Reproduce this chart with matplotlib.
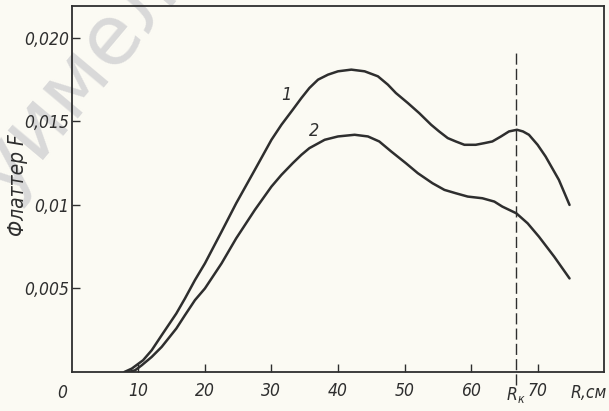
import matplotlib
matplotlib.use('Agg')
import matplotlib.pyplot as plt

# values
r1 = [7.9, 9, 10.7, 12, 13.5, 15.7, 17, 18.5, 20, 22.5, 24.7, 27.5, 30, 31.5, 33.2, 34.5,
      35.7, 37, 38.5, 40, 42, 44, 46, 47.5, 48.7, 50.5, 52.2, 54, 55.2, 56.5, 57.7, 59,
      60.7, 62, 63.2, 64.5, 65.7, 66.9, 67.8, 68.7, 70, 71.2, 72.2, 73.2, 74.8]
f1 = [0, 0.0002, 0.0007, 0.0013, 0.0022, 0.0035, 0.0044, 0.0055, 0.0065, 0.0084, 0.0101,
      0.0121, 0.0139, 0.0148, 0.0157, 0.0164, 0.0170, 0.0175, 0.0178, 0.0180, 0.0181,
      0.0180, 0.0177, 0.0172, 0.0167, 0.0161, 0.0155, 0.0148, 0.0144, 0.0140, 0.0138,
      0.0136, 0.0136, 0.0137, 0.0138, 0.0141, 0.0144, 0.0145, 0.0144, 0.0142, 0.0136,
      0.0129, 0.0122, 0.0115, 0.0100]
r2 = [8.5, 9.5, 10.5, 12, 13.5, 15.7, 17, 18.5, 20, 22.5, 24.7, 27.5, 30, 31.5, 33.2, 34.5,
      35.7, 38, 40, 42.5, 44.5, 46.2, 48, 50.2, 52, 54.2, 56, 57.7, 59.5, 61.7, 63.5, 64.7,
      66.8, 68.5, 70.2, 72.5, 74.8]
f2 = [0, 0.0001, 0.0004, 0.0009, 0.0015, 0.0026, 0.0034, 0.0043, 0.0050, 0.0065, 0.0080,
      0.0097, 0.0111, 0.0118, 0.0125, 0.0130, 0.0134, 0.0139, 0.0141, 0.0142, 0.0141,
      0.0138, 0.0132, 0.0125, 0.0119, 0.0113, 0.0109, 0.0107, 0.0105, 0.0104, 0.0102,
      0.0099, 0.0095, 0.0089, 0.0081, 0.0069, 0.0056]
r_k = 66.75
xticks = [10, 20, 30, 40, 50, 60, 70]
yticks = [0.005, 0.01, 0.015, 0.020]
ylabels = ['0,005', '0,01', '0,015', '0,020']

paper = '#fbfaf3'
ink = '#2e2e2e'
fnt = dict(family=['DejaVu Sans'], style='italic', stretch='condensed')

fig = plt.figure(figsize=(6.09, 4.11), dpi=100, facecolor=paper)
ax = fig.add_axes([0.118, 0.095, 0.874, 0.89], facecolor='none')

# watermark of the scan, kept behind everything
fig.text(0.125, 0.80, 'уимел', fontsize=60, color='#d9d9d9', rotation=50,
         ha='center', va='center', family='DejaVu Sans', zorder=-5)

ax.plot(r1, f1, color=ink, lw=1.8, solid_capstyle='round', solid_joinstyle='round')
ax.plot(r2, f2, color=ink, lw=1.8, solid_capstyle='round', solid_joinstyle='round')
ax.plot([r_k, r_k], [-0.0008, 0.0193], color=ink, lw=1.0, ls=(0, (8, 3)), clip_on=False)

ax.text(32.2, 0.0166, '1', fontsize=13, color=ink, ha='center', va='center', **fnt)
ax.text(36.4, 0.0144, '2', fontsize=13, color=ink, ha='center', va='center', **fnt)

ax.set_xlim(0, 80)
ax.set_ylim(0, 0.0219)
ax.set_xticks(xticks)
ax.set_xticklabels([str(v) for v in xticks], fontsize=12.5, color=ink, **fnt)
ax.set_yticks(yticks)
ax.set_yticklabels(ylabels, fontsize=12.5, color=ink, **fnt)
ax.tick_params(axis='x', direction='in', length=6, width=1, color=ink, pad=7)
ax.tick_params(axis='y', direction='in', length=6, width=1, color=ink, pad=2)
for s in ax.spines.values():
    s.set_color(ink)
    s.set_linewidth(1.3)

ax.text(-1.5, -0.0007, '0', fontsize=12.5, color=ink, ha='center', va='top', **fnt)
ax.text(r_k, -0.0008, 'R$_\\mathregular{к}$', fontsize=12.5, color=ink, ha='center', va='top', **fnt)
ax.text(80.4, -0.0007, 'R,см', fontsize=12.5, color=ink, ha='right', va='top', **fnt)
ax.set_ylabel('Флаттер F', fontsize=15, color=ink, **fnt)
ax.yaxis.set_label_coords(-0.082, 0.51)

fig.savefig('out.png', dpi=100, facecolor=paper)
